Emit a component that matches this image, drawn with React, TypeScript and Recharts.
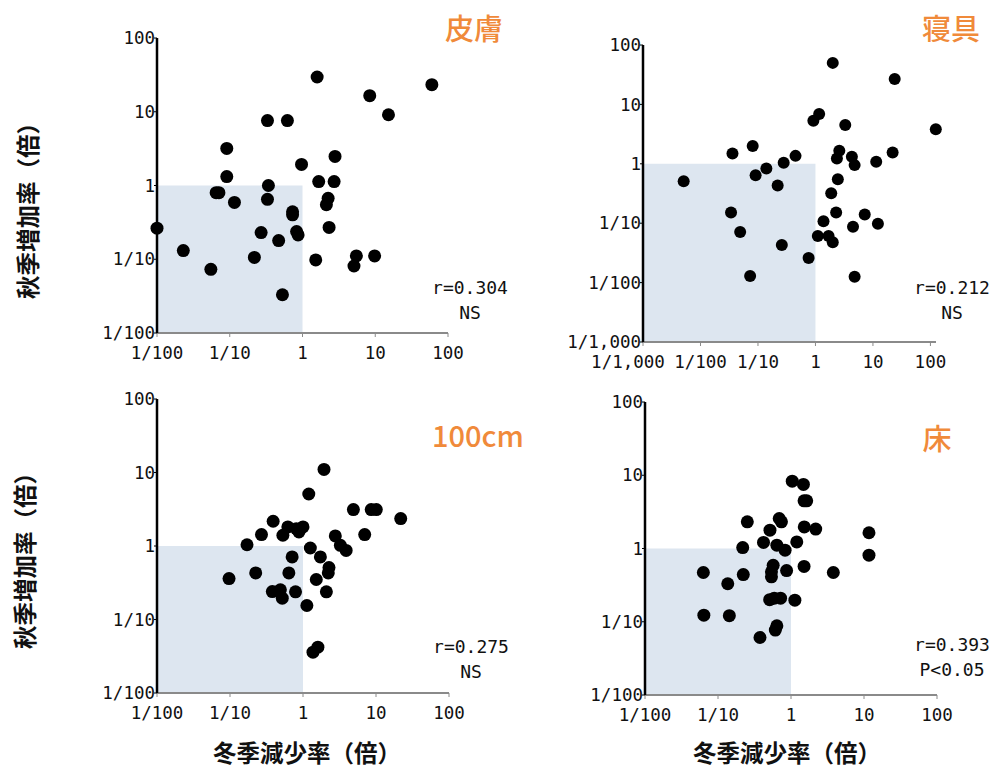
import React from "react";
import {
  ScatterChart,
  Scatter,
  XAxis,
  YAxis,
  ReferenceArea,
} from "recharts";

// Decade tick values and their printed labels
const tickValues = [0.001, 0.01, 0.1, 1, 10, 100];
const tickLabels = ["1/1,000", "1/100", "1/10", "1", "10", "100"];

// 皮膚
const skinWinter = [1.59, 60, 8.4, 15.2, 0.33, 0.62, 0.091, 2.8, 0.97, 0.091, 1.67, 2.72, 0.34, 0.065, 0.071, 0.33, 0.116, 2.25, 2.13, 0.73, 0.73, 0.01, 0.27, 0.83, 0.87, 2.32, 0.47, 0.023, 0.218, 1.52, 5.5, 5.1, 9.8, 0.055, 0.53];
const skinAutumn = [29.6, 23.3, 16.5, 9.1, 7.6, 7.6, 3.18, 2.48, 1.93, 1.32, 1.13, 1.13, 1.0, 0.8, 0.8, 0.65, 0.59, 0.67, 0.55, 0.44, 0.4, 0.264, 0.23, 0.238, 0.214, 0.27, 0.179, 0.131, 0.106, 0.098, 0.111, 0.081, 0.111, 0.073, 0.033];

// 寝具
const beddingWinter = [2.0, 23.9, 1.16, 0.92, 3.3, 124, 0.081, 0.036, 0.45, 22, 2.6, 2.36, 4.3, 4.8, 11.4, 0.28, 0.14, 0.091, 0.0051, 0.22, 2.45, 1.88, 0.034, 2.29, 7.2, 1.38, 12.2, 4.5, 0.049, 1.1, 1.69, 2.0, 0.26, 0.76, 0.073, 4.8];
const beddingAutumn = [50, 26.7, 6.9, 5.3, 4.5, 3.8, 2.0, 1.49, 1.36, 1.55, 1.66, 1.23, 1.31, 0.95, 1.08, 1.04, 0.83, 0.64, 0.51, 0.43, 0.55, 0.32, 0.151, 0.151, 0.14, 0.108, 0.098, 0.087, 0.071, 0.061, 0.061, 0.048, 0.043, 0.026, 0.0129, 0.0125];

// 100cm
const airWinter = [1.94, 1.2, 4.9, 8.6, 10.1, 21.8, 0.39, 0.62, 1.0, 0.81, 0.88, 0.27, 0.53, 2.77, 7.0, 0.171, 3.25, 3.9, 1.26, 0.71, 1.73, 2.27, 2.22, 0.225, 0.64, 0.097, 1.52, 0.38, 0.49, 0.79, 2.09, 0.52, 1.13, 1.37, 1.6];
const airAutumn = [11, 5.1, 3.13, 3.13, 3.13, 2.36, 2.17, 1.82, 1.82, 1.72, 1.55, 1.43, 1.4, 1.37, 1.43, 1.04, 1.02, 0.87, 0.94, 0.71, 0.71, 0.51, 0.43, 0.43, 0.43, 0.36, 0.35, 0.24, 0.254, 0.238, 0.238, 0.195, 0.155, 0.0359, 0.042];

// 床
const floorWinter = [1.04, 1.48, 1.51, 1.64, 0.252, 0.69, 0.74, 1.52, 2.18, 0.515, 11.7, 0.42, 1.2, 0.218, 0.64, 0.83, 11.7, 0.57, 0.54, 0.54, 0.87, 1.51, 3.8, 0.063, 0.222, 0.136, 0.51, 0.59, 0.72, 1.13, 0.064, 0.143, 0.64, 0.61, 0.376];
const floorAutumn = [8.3, 7.5, 4.47, 4.47, 2.31, 2.57, 2.31, 1.97, 1.84, 1.78, 1.64, 1.21, 1.23, 1.03, 1.11, 0.95, 0.81, 0.59, 0.48, 0.41, 0.5, 0.57, 0.47, 0.47, 0.44, 0.33, 0.2, 0.21, 0.21, 0.197, 0.123, 0.121, 0.088, 0.077, 0.061];

const panelTitles = ["皮膚", "寝具", "100cm", "床"];
const statLines = [
  ["r=0.304", "NS"],
  ["r=0.212", "NS"],
  ["r=0.275", "NS"],
  ["r=0.393", "P<0.05"],
];
const yAxisTitle = "秋季増加率（倍）";
const xAxisTitle = "冬季減少率（倍）";

const TICK_FONT = "'DejaVu Sans Mono', monospace";
const CJK_FONT = "'Noto Sans CJK JP', 'Noto Sans CJK SC', sans-serif";
const ORANGE = "#f08a3a";
const SHADE = "#dde6f0";

const labelFor = (v: number) => {
  const i = tickValues.findIndex((t) => Math.abs(t - v) / t < 1e-6);
  return i >= 0 ? tickLabels[i] : String(v);
};

type PanelProps = {
  xs: number[];
  ys: number[];
  xMin: number;
  xMax: number;
  yMin: number;
  plotLeft: number;
  plotTop: number;
  plotW: number;
  plotH: number;
  dotR: number;
  firstXTickShift?: number;
};

const Panel = ({ xs, ys, xMin, xMax, yMin, plotLeft, plotTop, plotW, plotH, dotR, firstXTickShift = 0 }: PanelProps) => {
  const data = xs.map((x, i) => ({ x, y: ys[i] }));
  const xTicks = tickValues.filter((t) => t >= xMin && t <= 100);
  const yTicks = tickValues.filter((t) => t >= yMin && t <= 100);
  const yAxisW = 95;
  const xAxisH = 40;
  const mTop = 10;
  const mRight = 30;

  const XTick = (p: any) => {
    const v = p.payload.value;
    const shift = Math.abs(v - xMin) / xMin < 1e-6 ? firstXTickShift : 0;
    return (
      <text x={p.x + shift} y={p.y} dy="0.71em" textAnchor="middle" fontFamily={TICK_FONT} fontSize={17.5} fill="#111">
        {labelFor(v)}
      </text>
    );
  };
  const YTick = (p: any) => (
    <text x={p.x} y={p.y} dy="0.355em" textAnchor="end" fontFamily={TICK_FONT} fontSize={17.5} fill="#111">
      {labelFor(p.payload.value)}
    </text>
  );

  return (
    <div style={{ position: "absolute", left: plotLeft - yAxisW, top: plotTop - mTop }}>
      <ScatterChart
        width={plotW + yAxisW + mRight}
        height={plotH + mTop + xAxisH}
        margin={{ top: mTop, right: mRight, bottom: 0, left: 0 }}
      >
        <ReferenceArea x1={xMin} x2={1} y1={yMin} y2={1} fill={SHADE} fillOpacity={1} stroke="none" />
        <XAxis
          dataKey="x"
          type="number"
          scale="log"
          domain={[xMin, xMax]}
          ticks={xTicks}
          height={xAxisH}
          axisLine={{ stroke: "#8a8a8a", strokeWidth: 2 }}
          tickLine={{ stroke: "#8a8a8a" }}
          tickSize={4}
          tickMargin={10}
          tick={XTick}
          interval={0}
        />
        <YAxis
          dataKey="y"
          type="number"
          scale="log"
          domain={[yMin, 100]}
          ticks={yTicks}
          width={yAxisW}
          axisLine={{ stroke: "#000", strokeWidth: 2.5 }}
          tickLine={{ stroke: "#000" }}
          tickSize={3}
          tickMargin={-1}
          tick={YTick}
          interval={0}
        />
        <Scatter
          data={data}
          isAnimationActive={false}
          shape={(p: any) => <circle cx={p.cx} cy={p.cy} r={dotR} fill="#000" />}
        />
      </ScatterChart>
    </div>
  );
};

const absText = (style: React.CSSProperties): React.CSSProperties => ({
  position: "absolute",
  whiteSpace: "nowrap",
  ...style,
});

const StatBox = ({ cx, cy, lines }: { cx: number; cy: number; lines: string[] }) => (
  <>
    {lines.map((t, i) => (
      <div
        key={i}
        style={absText({
          left: cx - 60,
          top: cy - 12 + i * 25,
          width: 120,
          height: 24,
          lineHeight: "24px",
          textAlign: "center",
          fontFamily: TICK_FONT,
          fontSize: 18,
          color: "#111",
        })}
      >
        {t}
      </div>
    ))}
  </>
);

const Title = ({ cx, cy, text }: { cx: number; cy: number; text: string }) => (
  <div
    style={absText({
      left: cx - 70,
      top: cy - 20,
      width: 140,
      height: 40,
      lineHeight: "40px",
      textAlign: "center",
      fontFamily: CJK_FONT,
      fontSize: 29,
      fontWeight: 500,
      color: ORANGE,
    })}
  >
    {text}
  </div>
);

const YTitle = ({ cx, cy }: { cx: number; cy: number }) => (
  <div
    style={absText({
      left: cx - 110,
      top: cy - 16,
      width: 220,
      height: 32,
      lineHeight: "32px",
      textAlign: "center",
      transform: "rotate(-90deg)",
      fontFamily: CJK_FONT,
      fontSize: 23.5,
      fontWeight: 700,
      color: "#111",
    })}
  >
    {yAxisTitle}
  </div>
);

const XTitle = ({ left, cy }: { left: number; cy: number }) => (
  <div
    style={absText({
      left,
      top: cy - 16,
      height: 32,
      lineHeight: "32px",
      fontFamily: CJK_FONT,
      fontSize: 23.5,
      fontWeight: 700,
      color: "#111",
    })}
  >
    {xAxisTitle}
  </div>
);

export default function App() {
  return (
    <div
      style={{
        position: "absolute",
        left: 0,
        top: 0,
        width: 995,
        height: 769,
        background: "#fff",
        overflow: "hidden",
      }}
    >
      <Panel xs={skinWinter} ys={skinAutumn} xMin={0.01} xMax={100} yMin={0.01}
        plotLeft={157} plotTop={38} plotW={291} plotH={295} dotR={6.5} />
      <Panel xs={beddingWinter} ys={beddingAutumn} xMin={0.001} xMax={125} yMin={0.001}
        plotLeft={643} plotTop={45} plotW={293} plotH={297} dotR={6} firstXTickShift={-15} />
      <Panel xs={airWinter} ys={airAutumn} xMin={0.01} xMax={100} yMin={0.01}
        plotLeft={157} plotTop={399} plotW={292} plotH={294} dotR={6.5} />
      <Panel xs={floorWinter} ys={floorAutumn} xMin={0.01} xMax={100} yMin={0.01}
        plotLeft={645} plotTop={402} plotW={292} plotH={293} dotR={6.5} />

      <Title cx={474} cy={27} text={panelTitles[0]} />
      <Title cx={951} cy={27} text={panelTitles[1]} />
      <Title cx={478} cy={434} text={panelTitles[2]} />
      <Title cx={937} cy={437} text={panelTitles[3]} />

      <StatBox cx={470} cy={288} lines={statLines[0]} />
      <StatBox cx={952} cy={288} lines={statLines[1]} />
      <StatBox cx={471} cy={647} lines={statLines[2]} />
      <StatBox cx={952} cy={645} lines={statLines[3]} />

      <YTitle cx={27} cy={205} />
      <YTitle cx={24} cy={555} />
      <XTitle left={213} cy={752} />
      <XTitle left={693} cy={752} />
    </div>
  );
}
